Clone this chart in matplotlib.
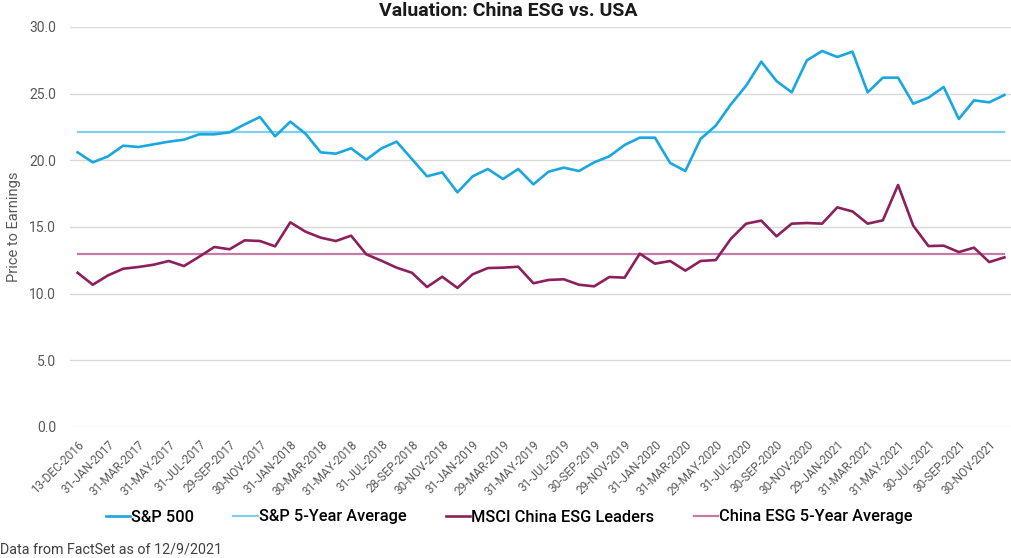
import numpy as np
import matplotlib
matplotlib.use("Agg")
import matplotlib.pyplot as plt

# monthly P/E readings, 13-Dec-2016 .. 9-Dec-2021
sp500 = [20.6, 19.85, 20.3, 21.1, 21.0, 21.2, 21.4, 21.55, 21.95, 21.95,
         22.1, 22.7, 23.25, 21.8, 22.9, 22.0, 20.6, 20.5, 20.9, 20.05,
         20.9, 21.4, 20.1, 18.8, 19.1, 17.6, 18.8, 19.35, 18.6, 19.35,
         18.2, 19.15, 19.45, 19.2, 19.85, 20.3, 21.15, 21.7, 21.7, 19.8,
         19.2, 21.6, 22.6, 24.2, 25.6, 27.4, 25.95, 25.1, 27.5, 28.2,
         27.75, 28.15, 25.1, 26.2, 26.2, 24.25, 24.7, 25.5, 23.1, 24.5,
         24.35, 24.9]
china_esg = [11.57, 10.67, 11.37, 11.87, 12.0, 12.17, 12.45, 12.07, 12.77, 13.5,
             13.33, 14.0, 13.95, 13.55, 15.35, 14.65, 14.2, 13.95, 14.35, 12.95,
             12.47, 11.95, 11.57, 10.5, 11.27, 10.43, 11.45, 11.92, 11.95, 12.02,
             10.78, 11.03, 11.08, 10.67, 10.55, 11.25, 11.2, 13.0, 12.25, 12.45,
             11.73, 12.45, 12.52, 14.12, 15.25, 15.48, 14.3, 15.25, 15.3, 15.25,
             16.47, 16.17, 15.25, 15.5, 18.15, 15.1, 13.57, 13.6, 13.12, 13.45,
             12.37, 12.72]
sp500_avg = 22.15
china_avg = 13.0

tick_labels = ["13-DEC-2016", "31-JAN-2017", "31-MAR-2017", "31-MAY-2017", "31-JUL-2017",
               "29-SEP-2017", "30-NOV-2017", "31-JAN-2018", "30-MAR-2018", "31-MAY-2018",
               "31-JUL-2018", "28-SEP-2018", "30-NOV-2018", "31-JAN-2019", "29-MAR-2019",
               "31-MAY-2019", "31-JUL-2019", "30-SEP-2019", "29-NOV-2019", "31-JAN-2020",
               "31-MAR-2020", "29-MAY-2020", "31-JUL-2020", "30-SEP-2020", "30-NOV-2020",
               "29-JAN-2021", "31-MAR-2021", "31-MAY-2021", "30-JUL-2021", "30-SEP-2021",
               "30-NOV-2021"]

plt.rcParams["font.family"] = ["Roboto", "DejaVu Sans"]

fig = plt.figure(figsize=(10.12, 5.58), dpi=100)
ax = fig.add_axes([70 / 1012, 1 - 427 / 558, 942 / 1012, 400 / 558])

x = np.arange(len(sp500))
ax.plot(x, sp500, color="#1aa7e0", lw=1.9, label="S&P 500", zorder=4)
ax.plot([0, len(x) - 1], [sp500_avg, sp500_avg], color="#7fd1f1", lw=1.6,
        label="S&P 5-Year Average", zorder=3)
ax.plot(x, china_esg, color="#8c1f5c", lw=1.9, label="MSCI China ESG Leaders", zorder=4)
ax.plot([0, len(x) - 1], [china_avg, china_avg], color="#c47ba6", lw=1.6,
        label="China ESG 5-Year Average", zorder=3)

ax.set_xlim(-0.5, len(x) - 0.5)
ax.set_ylim(0, 30)
ax.set_yticks(np.arange(0, 31, 5))
ax.set_yticklabels([f"{v:.1f}" for v in np.arange(0, 31, 5)], color="#595959", fontsize=10)
ax.set_xticks(np.arange(0, len(x), 2))
ax.set_xticklabels(tick_labels, rotation=45, ha="right", rotation_mode="anchor",
                   color="#595959", fontsize=8.6)
ax.tick_params(length=0)
ax.tick_params(axis="x", pad=8)
ax.tick_params(axis="y", pad=10)
ax.grid(axis="y", color="#d9d9d9", lw=1)
ax.set_axisbelow(True)
for s in ax.spines.values():
    s.set_visible(False)

ax.set_ylabel("Price to Earnings", color="#595959", fontsize=10.5, labelpad=6)
fig.text(0.502, 0.98, "Valuation: China ESG vs. USA", ha="center", va="center",
         fontsize=14, fontweight="bold", color="#1a1a1a")

ax.legend(loc="center", bbox_to_anchor=(0.503, 1 - 517 / 558), bbox_transform=fig.transFigure,
          ncol=4, frameon=False, handlelength=1.5, handletextpad=0.05,
          columnspacing=2.4, prop={"size": 11.8, "weight": "medium"})
fig.text(0.0, 1 - 550 / 558, "Data from FactSet as of 12/9/2021", ha="left", va="center",
         fontsize=10.3, color="#404040")

fig.savefig("out.png", dpi=100)
